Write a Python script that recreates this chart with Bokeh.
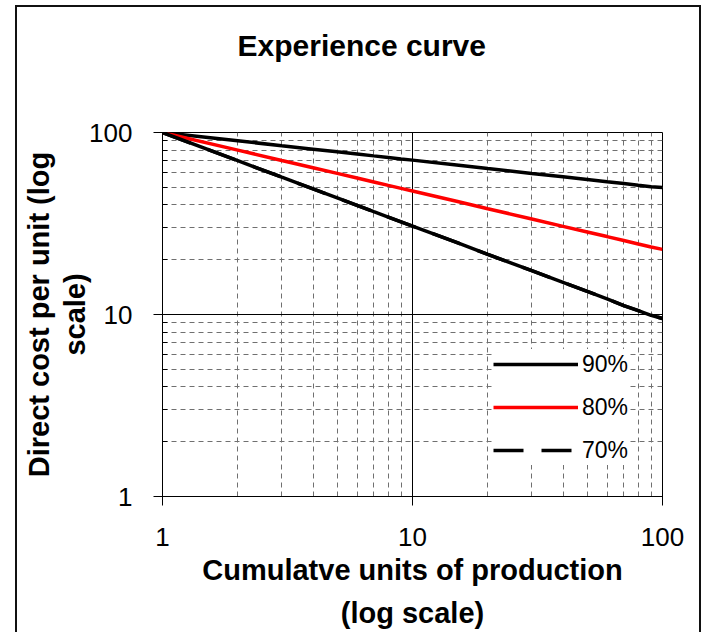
from bokeh.plotting import figure
from bokeh.models import (FixedTicker, Legend, LegendItem, NumeralTickFormatter,
                          InlineStyleSheet, Title)
from bokeh.embed import file_html
from bokeh.resources import INLINE

# ---- data ----
units = [1, 2, 3, 4, 5, 6, 7, 8, 9, 10, 15, 20, 30, 40, 50, 60, 70, 80, 90, 100]
cost_90 = [100, 90.0, 84.6, 81.0, 78.3, 76.2, 74.4, 72.9, 71.6, 70.5,
           66.3, 63.4, 59.6, 57.1, 55.2, 53.6, 52.4, 51.3, 50.4, 49.9]
cost_80 = [100, 80.0, 70.2, 64.0, 59.6, 56.2, 53.5, 51.2, 49.3, 47.7,
           41.9, 38.1, 33.5, 30.5, 28.4, 26.8, 25.5, 24.4, 23.5, 22.8]
cost_70 = [100, 70.0, 56.8, 49.0, 43.7, 39.8, 36.7, 34.3, 32.3, 30.6,
           24.9, 21.4, 17.4, 15.0, 13.4, 12.2, 11.2, 10.5, 9.9, 9.5]
series_labels = ["90%", "80%", "70%"]

major_ticks = [1, 10, 100]
minor_ticks = [2, 3, 4, 5, 6, 7, 8, 9, 20, 30, 40, 50, 60, 70, 80, 90]

title_text = "Experience curve"
x_title = "Cumulatve units of production\n(log scale)"
y_title = "Direct cost per unit (log\nscale)"

# outer chart-area border (drawn with CSS over the page, not part of the data)
border_css = InlineStyleSheet(css="""
:host { position: relative; }
:host::after {
  content: "";
  position: absolute;
  left: 15px; top: 5px;
  width: 686px; height: 627px;
  box-sizing: border-box;
  border-left: 2px solid #111;
  border-top: 2px solid #111;
  border-right: 2px solid #111;
  pointer-events: none;
}
""")

# ---- figure ----
p = figure(frame_width=500, frame_height=364,
           min_border_left=162, min_border_right=42,
           min_border_top=132, min_border_bottom=136,
           x_axis_type="log", y_axis_type="log",
           x_range=(1, 100), y_range=(1, 100),
           output_backend="svg", toolbar_location=None,
           stylesheets=[border_css])
p.background_fill_color = "white"
p.border_fill_color = "white"
p.outline_line_color = "black"
p.outline_line_width = 1

# spacer between the frame and the chart title, then the title itself
spacer = Title(text=" ", text_font_size="1px", standoff=68)
p.add_layout(spacer, "above")
chart_title = Title(text=title_text, align="left", offset=75, standoff=0,
                    text_font="Liberation Sans", text_font_size="30px",
                    text_font_style="bold", text_color="black")
p.add_layout(chart_title, "above")

for ax in (p.xaxis, p.yaxis):
    ax.ticker = FixedTicker(ticks=major_ticks, minor_ticks=minor_ticks)
    ax.formatter = NumeralTickFormatter(format="0")
    ax.axis_line_color = "black"
    ax.axis_line_width = 1
    ax.major_tick_line_color = "black"
    ax.major_tick_in = 5
    ax.major_tick_out = 9
    ax.major_label_text_font = "Liberation Sans"
    ax.major_label_text_font_size = "26px"
    ax.major_label_text_color = "black"
    ax.axis_label_text_font = "Liberation Sans"
    ax.axis_label_text_font_size = "29px"
    ax.axis_label_text_font_style = "bold"
    ax.axis_label_text_color = "black"

p.xaxis.minor_tick_line_color = None
p.yaxis.minor_tick_line_color = "black"
p.yaxis.minor_tick_in = 5
p.yaxis.minor_tick_out = 0

p.xaxis.axis_label = x_title
p.yaxis.axis_label = y_title
p.xaxis.major_label_standoff = 22
p.yaxis.major_label_standoff = 21
p.xaxis.axis_label_standoff = 5
p.yaxis.axis_label_standoff = -5
p.xaxis.axis_label_text_line_height = 1.35
p.yaxis.axis_label_text_line_height = 1.12

for g in (p.xgrid, p.ygrid):
    g.grid_line_color = "black"
    g.grid_line_width = 1
    g.minor_grid_line_color = "#707070"
    g.minor_grid_line_width = 1
    g.minor_grid_line_dash = "5 4"

# ---- series ----
# legend sample for the 70% series is dashed in the reference; the dashed copy
# sits exactly under the solid plotted line
r70_key = p.line(units, cost_70, line_color="black", line_width=3.5, line_dash="30 18")
r90 = p.line(units, cost_90, line_color="black", line_width=3.5)
r80 = p.line(units, cost_80, line_color="#ff0000", line_width=3.5)
r70 = p.line(units, cost_70, line_color="black", line_width=3.5)

legend = Legend(items=[LegendItem(label=series_labels[0], renderers=[r90]),
                       LegendItem(label=series_labels[1], renderers=[r80]),
                       LegendItem(label=series_labels[2], renderers=[r70_key])],
                location=(331, 31), orientation="vertical")
legend.border_line_color = None
legend.background_fill_color = "white"
legend.background_fill_alpha = 1
legend.padding = 8
legend.spacing = 13
legend.margin = 0
legend.glyph_width = 85
legend.glyph_height = 30
legend.label_height = 30
legend.label_standoff = 4
legend.label_text_font = "Liberation Sans"
legend.label_text_font_size = "23px"
legend.label_text_color = "black"
p.add_layout(legend)

open("out.html", "w").write(file_html(p, INLINE))
